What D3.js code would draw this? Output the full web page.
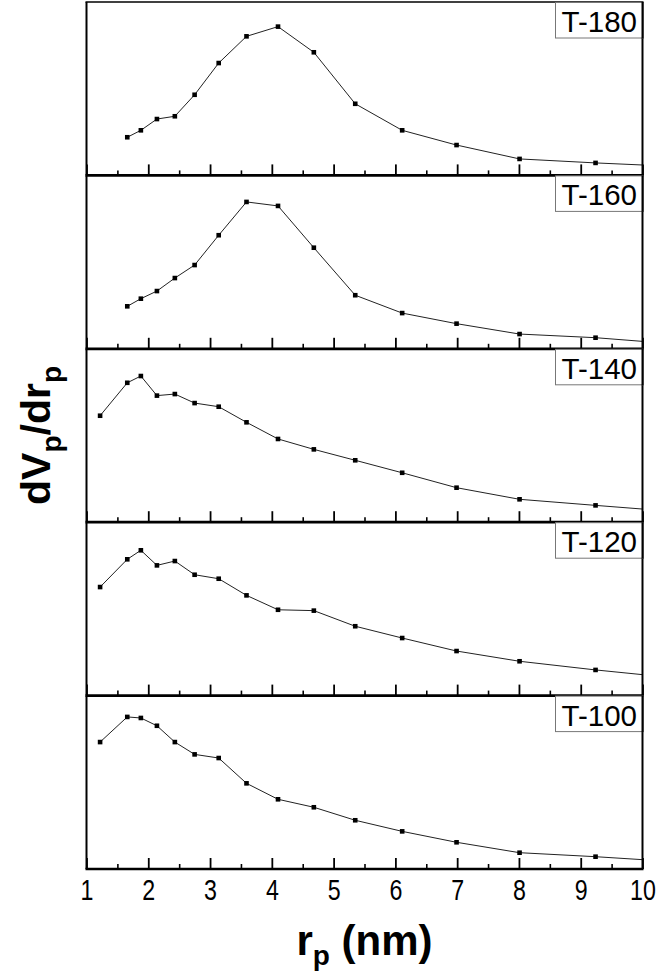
<!DOCTYPE html>
<html><head><meta charset="utf-8">
<script src="https://cdn.jsdelivr.net/npm/d3@7"></script>
<style>body{margin:0;background:#fff} svg{display:block}</style>
</head><body>
<script>
// ---- data (y in arbitrary units, 0-100 of panel height) ----
const samples = ["T-180", "T-160", "T-140", "T-120", "T-100"];
const radius = [1.22, 1.66, 1.88, 2.14, 2.43, 2.75, 3.14, 3.59, 4.10, 4.68, 5.35, 6.11, 6.99, 8.01, 9.24, 10.75];
const t180 = [null, 22.0, 26.0, 32.5, 34.1, 46.5, 64.8, 80.2, 85.8, 71.0, 41.3, 26.0, 17.5, 9.5, 7.2, 4.8];
const t160 = [null, 24.5, 28.9, 33.3, 40.8, 48.3, 65.5, 84.7, 82.4, 58.3, 30.9, 20.6, 14.5, 8.5, 6.4, 2.2];
const t140 = [61.4, 80.4, 84.3, 73.0, 73.9, 68.7, 66.6, 57.6, 48.0, 42.0, 35.7, 28.5, 19.9, 13.2, 9.7, 5.5];
const t120 = [62.6, 78.6, 83.8, 75.1, 77.6, 69.7, 67.4, 57.8, 49.5, 49.0, 40.0, 33.2, 25.7, 19.8, 14.8, 9.4];
const t100 = [73.2, 87.7, 87.1, 82.6, 73.2, 66.1, 64.0, 49.4, 40.2, 35.6, 28.1, 21.7, 15.4, 9.4, 7.1, 3.7];
const seriesList = [t180, t160, t140, t120, t100];
const xMajorTicks = [1, 2, 3, 4, 5, 6, 7, 8, 9, 10];
const xMinorTicks = [1.5, 2.5, 3.5, 4.5, 5.5, 6.5, 7.5, 8.5, 9.5];
const xTitle = "r";
const yTitle = "dV";

// ---- layout ----
const W = 656, H = 975;
const L = 86.5, R = 642.5, T0 = 2, PH = 173.4;
const svg = d3.select("body").append("svg").attr("width", W).attr("height", H)
  .style("font-family", "'Liberation Sans', Arial, sans-serif");

const x = d3.scaleLinear().domain([1, 10]).range([L, R]);

svg.append("defs").selectAll("clipPath").data(samples).join("clipPath")
  .attr("id", (d, i) => "clip" + i)
  .append("rect").attr("x", L).attr("width", R - L)
  .attr("y", (d, i) => T0 + i * PH).attr("height", PH);

samples.forEach((name, i) => {
  const top = T0 + i * PH, bottom = top + PH;
  const y = d3.scaleLinear().domain([0, 100]).range([bottom, top]);
  const g = svg.append("g");
  const pts = radius.map((r, k) => ({ r, v: seriesList[i][k] })).filter(d => d.v != null);

  const cg = g.append("g").attr("clip-path", `url(#clip${i})`);
  cg.append("path").datum(pts)
    .attr("fill", "none").attr("stroke", "#222").attr("stroke-width", 1)
    .attr("d", d3.line().x(d => x(d.r)).y(d => y(d.v)));
  cg.selectAll("rect.m").data(pts).join("rect").attr("class", "m")
    .attr("x", d => x(d.r) - 2.3).attr("y", d => y(d.v) - 2.3)
    .attr("width", 4.6).attr("height", 4.6).attr("fill", "#000");

  // frame: left/right/top
  g.append("line").attr("x1", L).attr("x2", L).attr("y1", top).attr("y2", bottom)
    .attr("stroke", "#000").attr("stroke-width", 2);
  g.append("line").attr("x1", R).attr("x2", R).attr("y1", top).attr("y2", bottom)
    .attr("stroke", "#000").attr("stroke-width", 2);
  if (i === 0) g.append("line").attr("x1", L - 1).attr("x2", R + 1).attr("y1", top).attr("y2", top)
    .attr("stroke", "#000").attr("stroke-width", 1.4);

  // bottom axis with inward ticks
  const isLast = i === samples.length - 1;
  const minorAx = g.append("g").attr("transform", `translate(0,${bottom})`)
    .call(d3.axisBottom(x).tickValues(xMinorTicks).tickSizeInner(-5).tickSizeOuter(0).tickFormat(""));
  minorAx.select(".domain").remove();
  minorAx.selectAll(".tick line").attr("stroke-width", 1.6);
  const majorAx = g.append("g").attr("transform", `translate(0,${bottom})`)
    .call(d3.axisBottom(x).tickValues(xMajorTicks).tickSizeInner(-11).tickSizeOuter(0)
      .tickPadding(0).tickFormat(isLast ? d3.format("d") : ""));
  majorAx.select(".domain").attr("stroke-width", 2.7).attr("d", `M${L - 1},0H${R + 1}`);
  majorAx.selectAll(".tick line").attr("stroke-width", 1.8);
  if (isLast) {
    majorAx.selectAll(".tick text")
      .attr("y", 31).attr("dy", null).attr("x", 0)
      .attr("font-size", 29).attr("fill", "#000")
      .attr("transform", "scale(0.8,1)");
  }

  // legend box
  const bx = 555.5, bw = 87.5, bh = 35.5;
  g.append("rect").attr("x", bx).attr("y", top + 0.5).attr("width", bw).attr("height", bh)
    .attr("fill", "#fff").attr("stroke", "#777").attr("stroke-width", 1);
  g.append("line").attr("x1", R).attr("x2", R).attr("y1", top).attr("y2", top + bh + 1)
    .attr("stroke", "#000").attr("stroke-width", 2);
  g.append("text").attr("x", bx + bw / 2).attr("y", top + 30)
    .attr("text-anchor", "middle").attr("font-size", 29.5).attr("fill", "#000").text(name);
});

// x title
const xt = svg.append("text").attr("x", (L + R) / 2).attr("y", 955)
  .attr("text-anchor", "middle").attr("font-size", 42).attr("font-weight", "bold");
xt.append("tspan").text(xTitle);
xt.append("tspan").attr("font-size", 28).attr("dy", 10).text("p");
xt.append("tspan").attr("font-size", 42).attr("dy", -10).text(" (nm)");

// y title
const yt = svg.append("text").attr("transform", `translate(50,${T0 + 2.5 * PH}) rotate(-90)`)
  .attr("text-anchor", "middle").attr("font-size", 41).attr("font-weight", "bold");
yt.append("tspan").text(yTitle);
yt.append("tspan").attr("font-size", 28).attr("dy", 11).text("p");
yt.append("tspan").attr("font-size", 41).attr("dy", -11).text("/dr");
yt.append("tspan").attr("font-size", 28).attr("dy", 11).text("p");
</script>
</body></html>
